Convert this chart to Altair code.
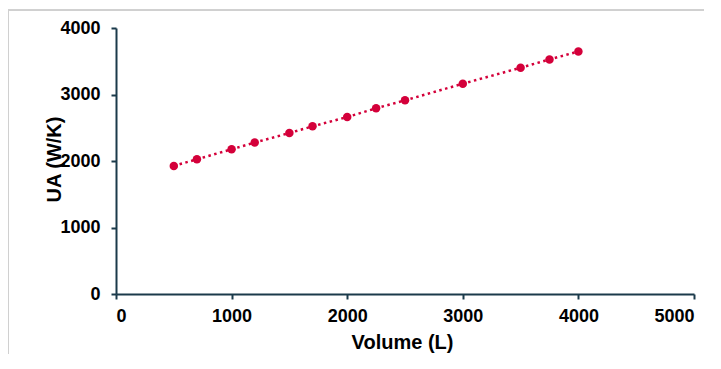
import altair as alt
import pandas as pd

volume = [500, 700, 1000, 1200, 1500, 1700, 2000, 2250, 2500, 3000, 3500, 3750, 4000]
ua = [1926, 2026, 2176, 2277, 2421, 2521, 2661, 2792, 2912, 3162, 3402, 3527, 3647]

df = pd.DataFrame({"Volume": volume, "UA": ua})

RED = "#D4003A"
AXIS = "#1B3A4B"
FONT = "Liberation Sans"

x = alt.X("Volume:Q", scale=alt.Scale(domain=[0, 5000], nice=False),
          axis=alt.Axis(title="Volume (L)", values=[0, 1000, 2000, 3000, 4000, 5000],
                        format="d", labelPadding=8,
                        titleX=286, titleY=54, titleBaseline="alphabetic", titleAlign="center"))
y = alt.Y("UA:Q", scale=alt.Scale(domain=[0, 4000], nice=False),
          axis=alt.Axis(title="UA (W/K)", values=[0, 1000, 2000, 3000, 4000],
                        format="d", labelPadding=11,
                        titleX=-56, titleY=131, titleAngle=270,
                        titleBaseline="alphabetic", titleAlign="center"))

line = alt.Chart(df).mark_line(color=RED, strokeWidth=2.5, strokeDash=[2.5, 3.5]).encode(x=x, y=y)
pts = alt.Chart(df).mark_circle(color=RED, size=72, opacity=1).encode(x=x, y=y)

frame_top = alt.Chart(df).mark_rule(color="#d0d0d0", strokeWidth=1).encode(
    x=alt.value(-108), x2=alt.value(590), y=alt.value(-18))
frame_left = alt.Chart(df).mark_rule(color="#d0d0d0", strokeWidth=1).encode(
    x=alt.value(-107.5), y=alt.value(-18), y2=alt.value(330))

chart = alt.layer(frame_top, frame_left, line, pts).properties(
    width=578, height=266,
    autosize=alt.AutoSizeParams(type="none"),
    padding={"left": 108, "top": 20, "right": 10, "bottom": 60},
).configure_view(stroke=None).configure_axis(
    grid=False,
    domainColor=AXIS, domainWidth=2,
    tickColor=AXIS, tickWidth=2, tickSize=5,
    labelFont=FONT, labelFontSize=18, labelFontWeight="bold", labelColor="black",
    titleFont=FONT, titleFontSize=20, titleFontWeight="bold", titleColor="black",
)

chart.save("out.html", embed_options={"renderer": "svg", "actions": False})
